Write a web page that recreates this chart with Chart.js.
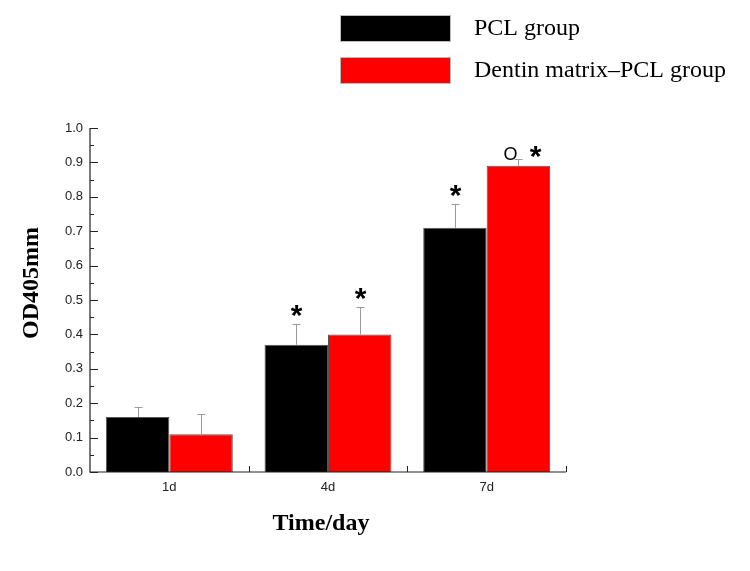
<!DOCTYPE html>
<html><head><meta charset="utf-8">
<script src="https://cdn.jsdelivr.net/npm/chart.js@4"></script>
<style>html,body{margin:0;padding:0;background:#fff}#wrap{width:750px;height:571px}</style>
</head><body><div id="wrap"><canvas id="c" width="750" height="571"></canvas></div>
<script>
const categories = ['1d', '4d', '7d'];
const seriesNames = ['PCL group', 'Dentin matrix\u2013PCL group'];
const pclValues = [0.16, 0.37, 0.71];
const dmValues = [0.11, 0.40, 0.89];
const pclErr = [0.03, 0.06, 0.07];
const dmErr = [0.06, 0.08, 0.02];
const pclMarks = ['', '*', '*'];
const dmMarks = ['', '*', 'O*'];
const yTicks = [0.0, 0.1, 0.2, 0.3, 0.4, 0.5, 0.6, 0.7, 0.8, 0.9, 1.0];

const colors = ['#000000', '#ff0000'];
const errs = [pclErr, dmErr];
const marks = [pclMarks, dmMarks];

const overlay = {
  id: 'overlay',
  afterDatasetsDraw(chart) {
    const ctx = chart.ctx;
    const x = chart.scales.x, y = chart.scales.y;
    const ca = chart.chartArea;
    ctx.save();
    // error bars
    chart.data.datasets.forEach((ds, di) => {
      const meta = chart.getDatasetMeta(di);
      meta.data.forEach((bar, i) => {
        const top = y.getPixelForValue(ds.data[i] + errs[di][i]);
        const bx = Math.round(bar.x) + 0.5;
        ctx.strokeStyle = '#9a9a9a';
        ctx.lineWidth = 1;
        ctx.beginPath();
        ctx.moveTo(bx, bar.y);
        ctx.lineTo(bx, Math.round(top) + 0.5);
        ctx.moveTo(bx - 4, Math.round(top) + 0.5);
        ctx.lineTo(bx + 4, Math.round(top) + 0.5);
        ctx.stroke();
        const m = marks[di][i];
        ctx.fillStyle = '#000';
        ctx.textAlign = 'center';
        ctx.textBaseline = 'alphabetic';
        if (m === '*') {
          ctx.font = 'bold 30px "Liberation Sans"';
          ctx.fillText('*', bx, top + 1);
        } else if (m === 'O*') {
          ctx.font = 'bold 30px "Liberation Sans"';
          ctx.fillText('*', bx + 17, top + 7);
          ctx.font = '18px "Liberation Sans"';
          ctx.fillText('O', bx - 8, top + 1);
        }
      });
    });
    // axes
    ctx.strokeStyle = '#222';
    ctx.lineWidth = 1.2;
    ctx.beginPath();
    ctx.moveTo(ca.left, ca.top);
    ctx.lineTo(ca.left, ca.bottom);
    ctx.lineTo(ca.right, ca.bottom);
    ctx.stroke();
    // y ticks (inward), major and minor
    ctx.lineWidth = 1;
    ctx.beginPath();
    for (let v = 0; v <= 1.0001; v += 0.05) {
      const py = Math.round(y.getPixelForValue(v)) + 0.5;
      const major = Math.round(v * 100) % 10 === 0;
      ctx.moveTo(ca.left, py);
      ctx.lineTo(ca.left + (major ? 8 : 4), py);
    }
    // x ticks at category boundaries
    for (let i = 0; i < categories.length; i++) {
      let px = i < categories.length - 1 ? (x.getPixelForValue(i) + x.getPixelForValue(i + 1)) / 2 : ca.right;
      px = Math.round(px) + 0.5;
      ctx.moveTo(px, ca.bottom);
      ctx.lineTo(px, ca.bottom - 6);
    }
    ctx.stroke();
    // axis titles
    ctx.fillStyle = '#000';
    ctx.font = 'bold 24px "Liberation Serif"';
    ctx.textAlign = 'center';
    ctx.textBaseline = 'middle';
    ctx.fillText('Time/day', 321, 524);
    ctx.save();
    ctx.translate(32, 283);
    ctx.rotate(-Math.PI / 2);
    ctx.fillText('OD405mm', 0, 0);
    ctx.restore();
    // legend
    const ly = [15, 57];
    seriesNames.forEach((n, i) => {
      ctx.fillStyle = colors[i];
      ctx.fillRect(340, ly[i], 111, 27);
      ctx.strokeStyle = '#bbb';
      ctx.lineWidth = 1;
      ctx.strokeRect(340.5, ly[i] + 0.5, 110, 26);
      ctx.fillStyle = '#000';
      ctx.font = '24px "Liberation Serif"';
      ctx.textAlign = 'left';
      ctx.textBaseline = 'middle';
      ctx.fillText(n, 474, ly[i] + 14);
    });
    ctx.restore();
  }
};

new Chart(document.getElementById('c'), {
  type: 'bar',
  data: {
    labels: categories,
    datasets: [
      { label: seriesNames[0], data: pclValues, backgroundColor: colors[0], borderColor: '#555', borderWidth: 1 },
      { label: seriesNames[1], data: dmValues, backgroundColor: colors[1], borderColor: '#555', borderWidth: 1 }
    ]
  },
  options: {
    responsive: false,
    animation: false,
    devicePixelRatio: 1,
    layout: { padding: { left: 0, right: 184, top: 128, bottom: 0 } },
    plugins: { legend: { display: false }, tooltip: { enabled: false } },
    datasets: { bar: { categoryPercentage: 0.8, barPercentage: 1.0 } },
    scales: {
      x: {
        grid: { display: false, drawTicks: false },
        border: { display: false },
        ticks: { color: '#222', font: { family: 'Liberation Sans', size: 13 }, padding: 8 },
        afterFit(s) { s.height = 99; }
      },
      y: {
        min: 0, max: 1.0,
        grid: { display: false, drawTicks: false },
        border: { display: false },
        afterBuildTicks(s) { s.ticks = yTicks.map(v => ({ value: v })); },
        ticks: { color: '#222', font: { family: 'Liberation Sans', size: 13 }, padding: 7,
                 callback: v => Number(v).toFixed(1) },
        afterFit(s) { s.width = 90; }
      }
    }
  },
  plugins: [overlay]
});
</script></body></html>
